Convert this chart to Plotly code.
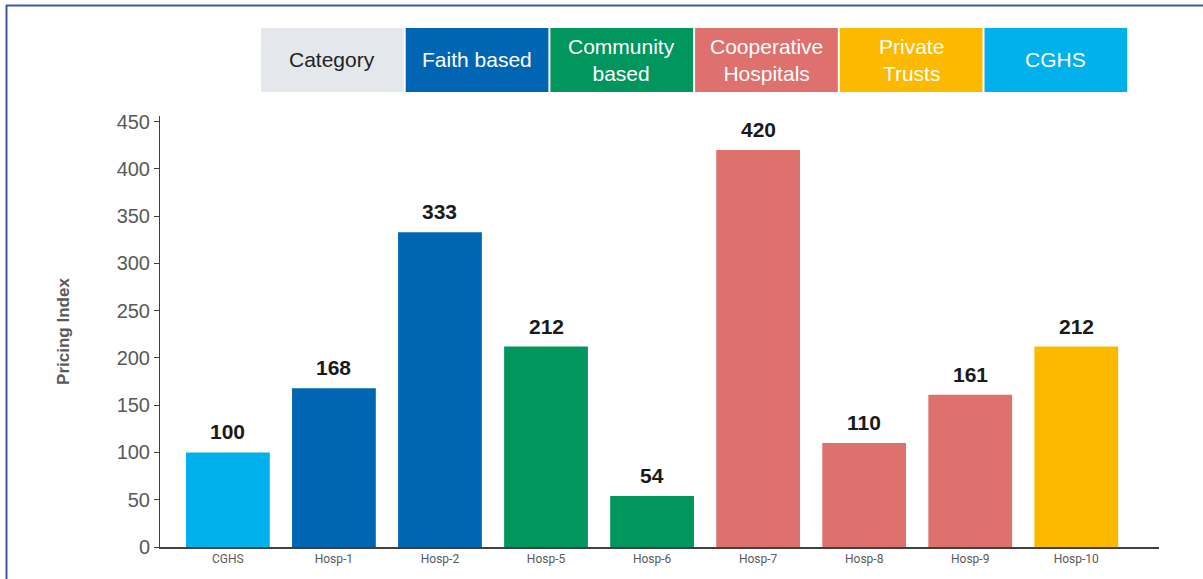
import plotly.graph_objs as go

hospitals = ["CGHS", "Hosp-1", "Hosp-2", "Hosp-5", "Hosp-6", "Hosp-7", "Hosp-8", "Hosp-9", "Hosp-10"]
pricing_index = [100, 168, 333, 212, 54, 420, 110, 161, 212]
hosp_category = ["CGHS", "Faith", "Faith", "Community", "Community", "Coop", "Coop", "Coop", "Private"]

cat_colors = {"CGHS": "#00B1EB", "Faith": "#0066B3", "Community": "#00965E",
              "Coop": "#DE716D", "Private": "#FBB900"}

header_labels = ["Category", "Faith based", "Community<br>based", "Cooperative<br>Hospitals",
                 "Private<br>Trusts", "CGHS"]
header_colors = ["#E4E8EC", "#0066B3", "#00965E", "#DE716D", "#FBB900", "#00B1EB"]
header_text_colors = ["#222222", "white", "white", "white", "white", "white"]

W, H = 1203, 579
L, R, T, B = 160, W - 1159, 116, H - 547
pw, ph = W - L - R, H - T - B

def px_x(p):
    return (p - L) / pw

def px_y(p):
    return (H - B - p) / ph

bars = go.Bar(x=hospitals, y=pricing_index,
              marker=dict(color=[cat_colors[c] for c in hosp_category], line=dict(width=0)),
              width=0.79, hoverinfo="x+y")

layout = go.Layout(
    width=W, height=H, margin=dict(l=L, r=R, t=T, b=B),
    paper_bgcolor="white", plot_bgcolor="white", showlegend=False,
    font=dict(family="Liberation Sans, Arial, sans-serif"),
    xaxis=dict(range=[-0.64, 8.78], showline=True, linecolor="#404040", linewidth=2,
               ticks="", showgrid=False, zeroline=False,
               tickfont=dict(family="Liberation Sans Narrow, Arial Narrow, Roboto, sans-serif",
                             size=12, color="#595959")),
    yaxis=dict(range=[0, 456], tickvals=list(range(0, 451, 50)), showline=True,
               linecolor="#404040", linewidth=1, ticks="outside", ticklen=5,
               tickcolor="#404040", showgrid=False, zeroline=False,
               tickfont=dict(size=20, color="#595959"),
               title=dict(text="<b>Pricing Index</b>", font=dict(size=17, color="#595959"),
                          standoff=42)),
)

fig = go.Figure(data=[bars], layout=layout)

# value labels above bars
for h, v in zip(hospitals, pricing_index):
    fig.add_annotation(x=h, y=v, text="<b>%d</b>" % v, showarrow=False, yanchor="bottom",
                       yshift=7, font=dict(size=21, color="#1a1a1a"))

# category header boxes
x0 = 260
bw = 144.7
for i, (lab, col, tc) in enumerate(zip(header_labels, header_colors, header_text_colors)):
    a = x0 + i * bw
    fig.add_shape(type="rect", xref="paper", yref="paper",
                  x0=px_x(a + 1), x1=px_x(a + bw - 1), y0=px_y(92), y1=px_y(28),
                  fillcolor=col, line=dict(width=0), layer="above")
    fig.add_annotation(xref="paper", yref="paper", x=px_x(a + bw / 2), y=px_y(60),
                       text=lab, showarrow=False, font=dict(size=21, color=tc),
                       xanchor="center", yanchor="middle")

# frame lines (top and left)
fig.add_shape(type="line", xref="paper", yref="paper", x0=px_x(6), x1=px_x(W + 20),
              y0=px_y(5.5), y1=px_y(5.5), line=dict(color="#3F56A5", width=2))
fig.add_shape(type="line", xref="paper", yref="paper", x0=px_x(6.5), x1=px_x(6.5),
              y0=px_y(5), y1=px_y(H + 20), line=dict(color="#3F56A5", width=2))

# drop the default 8px page margin so the figure sits at the window corner
fig.write_html("out.html", config={"displayModeBar": False},
               post_script="document.body.style.margin='0';")
